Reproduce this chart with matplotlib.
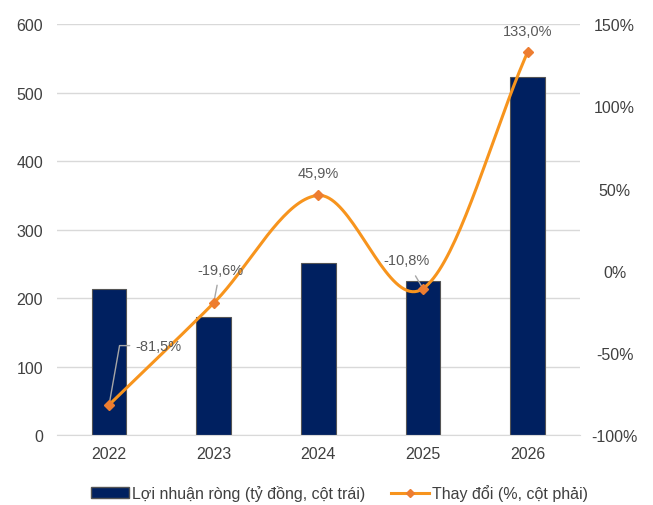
import numpy as np
import matplotlib.pyplot as plt
from matplotlib.lines import Line2D
from matplotlib.patches import Patch

plt.rcParams['font.family'] = ['Liberation Sans', 'DejaVu Sans']

years = ['2022', '2023', '2024', '2025', '2026']
profit = [213, 172, 251, 225, 523]
change = [-81.5, -19.6, 45.9, -10.8, 133.0]
change_labels = ['-81,5%', '-19,6%', '45,9%', '-10,8%', '133,0%']

bar_color = '#002060'
line_color = '#F7941D'


def smooth(x, y, n=40):
    # Catmull-Rom spline like Excel's smoothed line
    x = np.asarray(x, float)
    y = np.asarray(y, float)
    px = np.concatenate([[2 * x[0] - x[1]], x, [2 * x[-1] - x[-2]]])
    py = np.concatenate([[2 * y[0] - y[1]], y, [2 * y[-1] - y[-2]]])
    xs, ys = [], []
    t = np.linspace(0, 1, n)
    for i in range(1, len(px) - 2):
        for p, out in ((px, xs), (py, ys)):
            p0, p1, p2, p3 = p[i - 1], p[i], p[i + 1], p[i + 2]
            out.extend(0.5 * ((2 * p1) + (-p0 + p2) * t
                              + (2 * p0 - 5 * p1 + 4 * p2 - p3) * t ** 2
                              + (-p0 + 3 * p1 - 3 * p2 + p3) * t ** 3))
    return np.array(xs), np.array(ys)


fig = plt.figure(figsize=(6.53, 5.06), dpi=100)
ax = fig.add_axes([0.087, 0.138, 0.801, 0.812])
x = np.arange(len(years))

ax.bar(x, profit, width=0.33, color=bar_color, edgecolor='#555555', linewidth=0.8, zorder=2)
ax.set_ylim(0, 600)
ax.set_yticks(range(0, 601, 100))
ax.set_xlim(-0.5, len(years) - 0.5)
ax.set_xticks(x)
ax.set_xticklabels(years)
ax.grid(axis='y', color='#d9d9d9', linewidth=1, zorder=0)
ax.set_axisbelow(True)
for s in ['top', 'right', 'left']:
    ax.spines[s].set_visible(False)
ax.spines['bottom'].set_color('#d9d9d9')
ax.tick_params(length=0, labelsize=11.5, colors='#404040')
ax.tick_params(axis='y', pad=10)
ax.tick_params(axis='x', pad=8)

ax2 = ax.twinx()
ax2.set_ylim(-100, 150)
ax2.set_yticks(range(-100, 151, 50))
ax2.set_yticklabels([f'{v}%' for v in range(-100, 151, 50)])
for s in ax2.spines.values():
    s.set_visible(False)
ax2.tick_params(length=0, labelsize=11.5, colors='#404040', pad=25)
for lbl in ax2.get_yticklabels():
    lbl.set_horizontalalignment('center')

sx, sy = smooth(x, change)
ax2.plot(sx, sy, color=line_color, linewidth=2.2, zorder=3)
ax2.plot(x, change, linestyle='none', marker='D', markersize=5, color='#ED7D31', zorder=4)

lab_kw = dict(fontsize=10.5, color='#595959')
# -81,5% with leader line
ax2.annotate(change_labels[0], xy=(x[0], change[0]), xytext=(x[0] + 0.25, -45.5),
             va='center', ha='left', **lab_kw,
             arrowprops=dict(arrowstyle='-', color='#a6a6a6', lw=1,
                             connectionstyle='angle,angleA=0,angleB=80,rad=0',
                             shrinkA=2, shrinkB=0))
ax2.annotate(change_labels[1], xy=(x[1], change[1]), xytext=(x[1] + 0.06, 0.5),
             va='center', ha='center', **lab_kw,
             arrowprops=dict(arrowstyle='-', color='#a6a6a6', lw=1, shrinkA=4, shrinkB=0))
ax2.annotate(change_labels[2], xy=(x[2], change[2]), xytext=(0, 16), textcoords='offset points',
             va='center', ha='center', **lab_kw)
ax2.annotate(change_labels[3], xy=(x[3], change[3]), xytext=(x[3] - 0.16, 6.5),
             va='center', ha='center', **lab_kw,
             arrowprops=dict(arrowstyle='-', color='#a6a6a6', lw=1, shrinkA=5, shrinkB=0))
ax2.annotate(change_labels[4], xy=(x[4], change[4]), xytext=(0, 15), textcoords='offset points',
             va='center', ha='center', **lab_kw)

handles = [Patch(facecolor=bar_color, edgecolor='#555555'),
           Line2D([0], [0], color=line_color, lw=2.2, marker='D', markersize=4,
                  markerfacecolor='#ED7D31', markeredgecolor='#ED7D31')]
fig.legend(handles, ['Lợi nhuận ròng (tỷ đồng, cột trái)', 'Thay đổi (%, cột phải)'],
           loc='center', bbox_to_anchor=(0.52, 12 / 506), ncol=2, frameon=False,
           fontsize=11.5, labelcolor='#404040', handlelength=2.4, handletextpad=0.2,
           columnspacing=1.6)

fig.savefig('out.png', dpi=100)
